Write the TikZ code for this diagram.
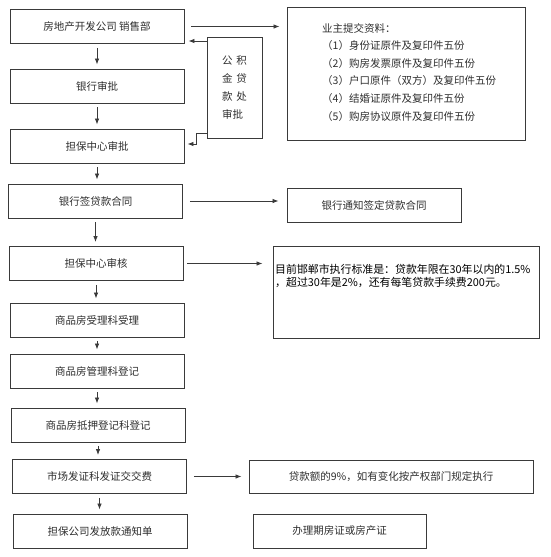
\documentclass[tikz,border=0pt]{standalone}
\usepackage{fontspec}
\setmainfont{Noto Sans CJK SC}
\usetikzlibrary{arrows.meta,positioning,calc}
\definecolor{lnGray}{HTML}{3A3A3A}
\definecolor{txGray}{HTML}{2E2E2E}
\begin{document}
\begin{tikzpicture}[x=1pt,y=-1pt,font=\fontsize{10.5}{13}\selectfont,
  stage/.style={draw=lnGray,line width=0.9pt,text=txGray,minimum width=174pt,minimum height=34pt,inner sep=2pt},
  msg/.style={-{Latex[length=6pt,width=4.5pt]},lnGray,line width=0.8pt},
  txt/.style={text=txGray,align=left,inner sep=0pt}]
  \useasboundingbox (0,0) rectangle (550,557);
  \node[stage] (b1) at (97,26.5) {房地产开发公司 销售部};
  \node[stage] (b2) at (97,86) {银行审批};
  \node[stage] (b3) at (97,146) {担保中心审批};
  \node[stage] (b4) at (95.5,201) {银行签贷款合同};
  \node[stage] (b5) at (96,263.5) {担保中心审核};
  \node[stage] (b6) at (97,320) {商品房受理科受理};
  \node[stage] (b7) at (97,371) {商品房管理科登记};
  \node[stage] (b8) at (98,425) {商品房抵押登记科登记};
  \node[stage] (b9) at (99.5,476.5) {市场发证科发证交交费};
  \node[stage] (b10) at (100,531) {担保公司发放款通知单};
  \node[stage,minimum width=55pt,minimum height=101pt,align=left,font=\fontsize{10.5}{18}\selectfont] (gjj) at (234.5,87.5) {公\hspace{4pt}积\\金\hspace{4pt}贷\\款\hspace{4pt}处\\审批};
  \node[stage,minimum width=238pt,minimum height=133pt] (docs) at (406,73.5) {};
  \node[txt,anchor=north west,font=\fontsize{10.5}{17.6}\selectfont] (docstxt) at (322,23) {业主提交资料：\\（1）身份证原件及复印件五份\\（2）购房发票原件及复印件五份\\（3）户口原件（双方）及复印件五份\\（4）结婚证原件及复印件五份\\（5）购房协议原件及复印件五份};
  \node[stage] (notify) at (374,205) {银行通知签定贷款合同};
  \node[stage,minimum width=266pt,minimum height=92pt] (rate) at (406,292) {};
  \node[txt,anchor=north west,text=black,font=\fontsize{10.9}{13.5}\selectfont] (ratetxt) at (275,264) {目前邯郸市执行标准是：贷款年限在30年以内的1.5\%\\，超过30年是2\%，还有每笔贷款手续费200元。};
  \node[stage,minimum width=284pt,minimum height=33pt] (fee) at (391,476.5) {贷款额的9\%，如有变化按产权部门规定执行};
  \node[stage,minimum width=173pt] (cert) at (339.5,531) {办理期房证或房产证};
  \foreach \a/\b in {b1/b2,b2/b3,b3/b4,b4/b5,b5/b6,b6/b7,b7/b8,b8/b9,b9/b10}
    \draw[msg] ([yshift=-4pt]\a.south) -- ([yshift=4pt]\a.south |- \b.north);
  \draw[msg] ([xshift=7pt]b1.east) -- ([xshift=-7pt]docs.west |- b1.east);
  \draw[msg] ([xshift=7pt]b4.east) -- ([xshift=-8pt]notify.west |- b4.east);
  \draw[msg] ([xshift=4pt]b5.east) -- ([xshift=-10pt]rate.west |- b5.east);
  \draw[msg] ([xshift=7pt]b9.east) -- ([xshift=-7pt]fee.west |- b9.east);
  \draw[msg] (gjj.west|-0,41) -- ([xshift=4pt]b1.east|-0,41);
  \coordinate (bend) at (196,133);
  \draw[msg] (gjj.west|-bend) -- (bend) |- ([xshift=3pt]b3.east|-0,144);
\end{tikzpicture}
\end{document}
